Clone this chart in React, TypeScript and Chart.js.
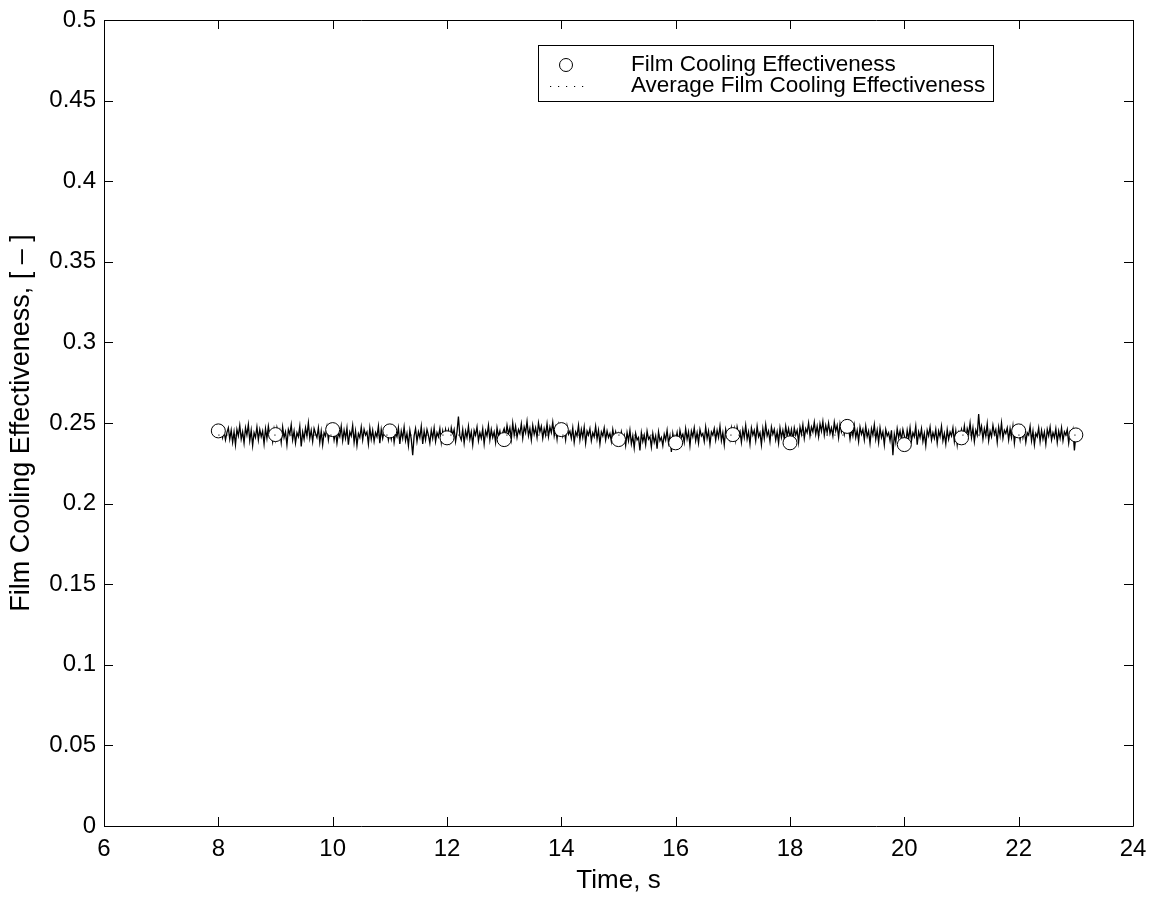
import React, { useEffect, useRef } from "react";
import { Chart, registerables } from "chart.js";

Chart.register(...registerables);

const FONT = "'Liberation Sans', Arial, Helvetica, sans-serif";

const X_MIN = 6;
const X_MAX = 24;
const Y_MIN = 0;
const Y_MAX = 0.5;

const X_TICKS = [6, 8, 10, 12, 14, 16, 18, 20, 22, 24];
const X_TICK_LABELS = ["6", "8", "10", "12", "14", "16", "18", "20", "22", "24"];
const Y_TICKS = [0, 0.05, 0.1, 0.15, 0.2, 0.25, 0.3, 0.35, 0.4, 0.45, 0.5];
const Y_TICK_LABELS = ["0", "0.05", "0.1", "0.15", "0.2", "0.25", "0.3", "0.35", "0.4", "0.45", "0.5"];

const X_TITLE = "Time, s";
const Y_TITLE = "Film Cooling Effectiveness, [ \u2013 ]";

const MARKER_LABEL = "Film Cooling Effectiveness";
const AVERAGE_LABEL = "Average Film Cooling Effectiveness";

// sampled effectiveness at whole seconds (circles)
const MARKER_TIMES = [8, 9, 10, 11, 12, 13, 14, 15, 16, 17, 18, 19, 20, 21, 22, 23];
const MARKER_VALUES = [
  0.2451, 0.2428, 0.2459, 0.2451, 0.2408, 0.2397, 0.2459, 0.2397,
  0.2377, 0.2428, 0.2377, 0.2479, 0.2366, 0.2408, 0.2451, 0.2426,
];

// average effectiveness (dotted)
const AVERAGE_TIMES = [8, 23];
const AVERAGE_VALUES = [0.2425, 0.2425];

// raw signal, sampled every RAW_STEP seconds from RAW_START
const RAW_START = 8;
const RAW_STEP = 0.025;
const RAW_VALUES = [
  // 8
  0.2455, 0.2430, 0.2465, 0.2410, 0.2450, 0.2395, 0.2440, 0.2470, 0.2400, 0.2455,
  0.2380, 0.2445, 0.2365, 0.2460, 0.2420, 0.2485, 0.2400, 0.2445, 0.2375, 0.2470,
  0.2425, 0.2490, 0.2390, 0.2455, 0.2360, 0.2440, 0.2410, 0.2475, 0.2395, 0.2460,
  0.2415, 0.2450, 0.2370, 0.2465, 0.2405, 0.2480, 0.2420, 0.2445, 0.2385, 0.2460,
  // 9
  0.2400, 0.2470, 0.2425, 0.2455, 0.2380, 0.2475, 0.2410, 0.2445, 0.2365, 0.2460,
  0.2430, 0.2490, 0.2395, 0.2450, 0.2375, 0.2440, 0.2415, 0.2480, 0.2355, 0.2445,
  0.2400, 0.2470, 0.2420, 0.2500, 0.2405, 0.2455, 0.2385, 0.2465, 0.2435, 0.2410,
  0.2470, 0.2380, 0.2450, 0.2365, 0.2440, 0.2420, 0.2475, 0.2395, 0.2455, 0.2430,
  // 10
  0.2465, 0.2395, 0.2450, 0.2375, 0.2440, 0.2415, 0.2480, 0.2390, 0.2455, 0.2405,
  0.2470, 0.2365, 0.2445, 0.2420, 0.2485, 0.2380, 0.2450, 0.2360, 0.2435, 0.2410,
  0.2475, 0.2395, 0.2460, 0.2425, 0.2445, 0.2370, 0.2470, 0.2400, 0.2455, 0.2385,
  0.2440, 0.2415, 0.2480, 0.2375, 0.2460, 0.2405, 0.2450, 0.2430, 0.2465, 0.2395,
  // 11
  0.2445, 0.2400, 0.2465, 0.2380, 0.2440, 0.2415, 0.2470, 0.2370, 0.2450, 0.2405,
  0.2475, 0.2390, 0.2435, 0.2360, 0.2455, 0.2400, 0.2300, 0.2420, 0.2465, 0.2385,
  0.2445, 0.2410, 0.2480, 0.2370, 0.2450, 0.2395, 0.2460, 0.2425, 0.2375, 0.2455,
  0.2405, 0.2470, 0.2385, 0.2440, 0.2415, 0.2465, 0.2380, 0.2450, 0.2400, 0.2460,
  // 12
  0.2410, 0.2455, 0.2390, 0.2470, 0.2425, 0.2460, 0.2385, 0.2445, 0.2540, 0.2420,
  0.2395, 0.2460, 0.2375, 0.2450, 0.2410, 0.2480, 0.2400, 0.2445, 0.2365, 0.2455,
  0.2425, 0.2475, 0.2390, 0.2440, 0.2405, 0.2465, 0.2370, 0.2450, 0.2420, 0.2485,
  0.2395, 0.2460, 0.2410, 0.2445, 0.2380, 0.2470, 0.2415, 0.2450, 0.2395, 0.2440,
  // 13
  0.2465, 0.2415, 0.2485, 0.2430, 0.2470, 0.2400, 0.2500, 0.2425, 0.2480, 0.2410,
  0.2460, 0.2435, 0.2495, 0.2405, 0.2475, 0.2440, 0.2510, 0.2420, 0.2465, 0.2395,
  0.2485, 0.2430, 0.2470, 0.2410, 0.2500, 0.2445, 0.2480, 0.2405, 0.2465, 0.2425,
  0.2495, 0.2415, 0.2475, 0.2440, 0.2505, 0.2420, 0.2470, 0.2400, 0.2485, 0.2435,
  // 14
  0.2475, 0.2420, 0.2460, 0.2395, 0.2480, 0.2430, 0.2450, 0.2405, 0.2470, 0.2380,
  0.2445, 0.2420, 0.2485, 0.2395, 0.2460, 0.2410, 0.2475, 0.2375, 0.2450, 0.2425,
  0.2465, 0.2390, 0.2440, 0.2415, 0.2480, 0.2400, 0.2455, 0.2370, 0.2445, 0.2420,
  0.2470, 0.2395, 0.2450, 0.2410, 0.2435, 0.2385, 0.2460, 0.2405, 0.2445, 0.2390,
  // 15
  0.2430, 0.2380, 0.2445, 0.2400, 0.2425, 0.2360, 0.2440, 0.2390, 0.2455, 0.2370,
  0.2420, 0.2345, 0.2435, 0.2395, 0.2410, 0.2330, 0.2440, 0.2385, 0.2425, 0.2365,
  0.2450, 0.2400, 0.2415, 0.2350, 0.2435, 0.2380, 0.2420, 0.2340, 0.2445, 0.2390,
  0.2410, 0.2360, 0.2430, 0.2395, 0.2455, 0.2375, 0.2420, 0.2320, 0.2435, 0.2385,
  // 16
  0.2395, 0.2440, 0.2370, 0.2455, 0.2410, 0.2430, 0.2380, 0.2465, 0.2400, 0.2445,
  0.2360, 0.2450, 0.2415, 0.2470, 0.2390, 0.2440, 0.2375, 0.2460, 0.2420, 0.2435,
  0.2385, 0.2475, 0.2405, 0.2450, 0.2370, 0.2445, 0.2425, 0.2465, 0.2395, 0.2455,
  0.2410, 0.2480, 0.2390, 0.2440, 0.2365, 0.2460, 0.2415, 0.2450, 0.2400, 0.2470,
  // 17
  0.2420, 0.2465, 0.2395, 0.2475, 0.2430, 0.2450, 0.2380, 0.2460, 0.2410, 0.2485,
  0.2400, 0.2445, 0.2370, 0.2470, 0.2425, 0.2455, 0.2390, 0.2480, 0.2415, 0.2440,
  0.2365, 0.2465, 0.2405, 0.2490, 0.2420, 0.2450, 0.2385, 0.2475, 0.2430, 0.2460,
  0.2395, 0.2445, 0.2375, 0.2470, 0.2410, 0.2455, 0.2400, 0.2480, 0.2420, 0.2465,
  // 18
  0.2410, 0.2460, 0.2395, 0.2470, 0.2425, 0.2455, 0.2380, 0.2475, 0.2430, 0.2490,
  0.2405, 0.2465, 0.2440, 0.2500, 0.2420, 0.2475, 0.2445, 0.2505, 0.2430, 0.2480,
  0.2415, 0.2495, 0.2450, 0.2510, 0.2425, 0.2485, 0.2440, 0.2500, 0.2435, 0.2470,
  0.2420, 0.2505, 0.2450, 0.2485, 0.2410, 0.2495, 0.2445, 0.2475, 0.2430, 0.2500,
  // 19
  0.2445, 0.2470, 0.2400, 0.2465, 0.2420, 0.2485, 0.2410, 0.2455, 0.2385, 0.2475,
  0.2430, 0.2460, 0.2395, 0.2480, 0.2415, 0.2450, 0.2375, 0.2465, 0.2425, 0.2490,
  0.2400, 0.2455, 0.2380, 0.2470, 0.2410, 0.2445, 0.2365, 0.2460, 0.2420, 0.2440,
  0.2390, 0.2455, 0.2300, 0.2430, 0.2380, 0.2465, 0.2410, 0.2450, 0.2395, 0.2460,
  // 20
  0.2420, 0.2375, 0.2455, 0.2400, 0.2470, 0.2390, 0.2440, 0.2415, 0.2480, 0.2365,
  0.2445, 0.2410, 0.2465, 0.2385, 0.2435, 0.2360, 0.2455, 0.2420, 0.2475, 0.2395,
  0.2440, 0.2405, 0.2460, 0.2375, 0.2450, 0.2415, 0.2480, 0.2390, 0.2435, 0.2370,
  0.2460, 0.2400, 0.2445, 0.2420, 0.2470, 0.2385, 0.2450, 0.2365, 0.2440, 0.2410,
  // 21
  0.2460, 0.2415, 0.2480, 0.2395, 0.2465, 0.2430, 0.2500, 0.2410, 0.2470, 0.2385,
  0.2455, 0.2425, 0.2555, 0.2440, 0.2480, 0.2400, 0.2465, 0.2420, 0.2495, 0.2390,
  0.2450, 0.2415, 0.2485, 0.2430, 0.2460, 0.2380, 0.2475, 0.2420, 0.2500, 0.2405,
  0.2455, 0.2435, 0.2470, 0.2395, 0.2465, 0.2410, 0.2480, 0.2375, 0.2450, 0.2420,
  // 22
  0.2445, 0.2395, 0.2470, 0.2410, 0.2455, 0.2380, 0.2440, 0.2425, 0.2480, 0.2390,
  0.2450, 0.2365, 0.2435, 0.2415, 0.2470, 0.2385, 0.2455, 0.2400, 0.2445, 0.2370,
  0.2460, 0.2420, 0.2475, 0.2395, 0.2440, 0.2410, 0.2465, 0.2380, 0.2450, 0.2405,
  0.2470, 0.2390, 0.2445, 0.2425, 0.2460, 0.2375, 0.2440, 0.2410, 0.2455, 0.2330,
  // 23
  0.2425,
];

const framePlugin = {
  id: "matlabFrame",
  afterDraw(chart: any) {
    const { ctx, chartArea } = chart;
    const { left, right, top, bottom } = chartArea;
    const xs = chart.scales.x;
    const ys = chart.scales.y;
    const TL = 9;
    ctx.save();
    ctx.strokeStyle = "#000";
    ctx.lineWidth = 1;
    ctx.beginPath();
    ctx.rect(Math.round(left) + 0.5, Math.round(top) + 0.5, Math.round(right - left), Math.round(bottom - top));
    ctx.stroke();
    ctx.beginPath();
    X_TICKS.forEach((v) => {
      const px = Math.round(xs.getPixelForValue(v)) + 0.5;
      ctx.moveTo(px, bottom);
      ctx.lineTo(px, bottom - TL);
      ctx.moveTo(px, top);
      ctx.lineTo(px, top + TL);
    });
    Y_TICKS.forEach((v) => {
      const py = Math.round(ys.getPixelForValue(v)) + 0.5;
      ctx.moveTo(left, py);
      ctx.lineTo(left + TL, py);
      ctx.moveTo(right, py);
      ctx.lineTo(right - TL, py);
    });
    ctx.stroke();
    ctx.restore();
  },
};

const legendPlugin = {
  id: "matlabLegend",
  afterDraw(chart: any) {
    const { ctx } = chart;
    const bx = 538, by = 45, bw = 455, bh = 56;
    ctx.save();
    ctx.fillStyle = "#fff";
    ctx.fillRect(bx, by, bw, bh);
    ctx.strokeStyle = "#000";
    ctx.lineWidth = 1;
    ctx.strokeRect(bx + 0.5, by + 0.5, bw, bh);
    const r1 = 65, r2 = 86;
    ctx.beginPath();
    ctx.arc(566, r1, 6.5, 0, Math.PI * 2);
    ctx.fillStyle = "#fff";
    ctx.fill();
    ctx.stroke();
    ctx.beginPath();
    ctx.setLineDash([1.2, 6.8]);
    ctx.moveTo(550, r2 + 0.5);
    ctx.lineTo(585, r2 + 0.5);
    ctx.stroke();
    ctx.setLineDash([]);
    ctx.fillStyle = "#000";
    ctx.font = `22.5px ${FONT}`;
    ctx.textBaseline = "middle";
    ctx.textAlign = "left";
    const ds = chart.data.datasets;
    ctx.fillText(ds[0].label, 631, r1);
    ctx.fillText(ds[1].label, 631, r2);
    ctx.restore();
  },
};

export default function App() {
  const canvasRef = useRef<HTMLCanvasElement | null>(null);

  useEffect(() => {
    const canvas = canvasRef.current;
    if (!canvas) return;
    const rawPoints = RAW_VALUES.map((v, i) => ({ x: RAW_START + i * RAW_STEP, y: v }));
    const markerPoints = MARKER_TIMES.map((t, i) => ({ x: t, y: MARKER_VALUES[i] }));
    const avgPoints = AVERAGE_TIMES.map((t, i) => ({ x: t, y: AVERAGE_VALUES[i] }));

    const chart = new Chart(canvas, {
      type: "scatter",
      data: {
        datasets: [
          {
            label: MARKER_LABEL,
            data: markerPoints,
            showLine: false,
            pointRadius: 7,
            pointHoverRadius: 7,
            pointBorderWidth: 1,
            pointBorderColor: "#000",
            pointBackgroundColor: "#fff",
            order: 2,
          },
          {
            label: AVERAGE_LABEL,
            data: avgPoints,
            showLine: true,
            borderColor: "#000",
            borderWidth: 1,
            borderDash: [1.2, 6.8],
            pointRadius: 0,
            order: 1,
          },
          {
            label: "raw",
            data: rawPoints,
            showLine: true,
            borderColor: "#000",
            borderWidth: 1.3,
            pointRadius: 0,
            tension: 0,
            order: 3,
          },
        ],
      },
      options: {
        responsive: false,
        animation: false,
        events: [],
        layout: { padding: { top: 14, right: 27, left: 0, bottom: 0 } },
        plugins: {
          legend: { display: false },
          tooltip: { enabled: false },
        },
        scales: {
          x: {
            type: "linear",
            min: X_MIN,
            max: X_MAX,
            afterBuildTicks: (s: any) => {
              s.ticks = X_TICKS.map((v) => ({ value: v }));
            },
            afterFit: (s: any) => {
              s.height = 75;
            },
            grid: { display: false, drawTicks: false },
            border: { display: false },
            ticks: {
              color: "#000",
              padding: 11,
              maxRotation: 0,
              autoSkip: false,
              font: { family: FONT, size: 24, lineHeight: 1 },
              callback: (v: any) => X_TICK_LABELS[X_TICKS.indexOf(Number(v))],
            },
            title: {
              display: true,
              text: X_TITLE,
              color: "#000",
              font: { family: FONT, size: 26, lineHeight: 1.2 },
              padding: { top: 0, bottom: 5 },
            },
          },
          y: {
            type: "linear",
            min: Y_MIN,
            max: Y_MAX,
            afterBuildTicks: (s: any) => {
              s.ticks = Y_TICKS.map((v) => ({ value: v }));
            },
            afterFit: (s: any) => {
              s.width = 104;
            },
            grid: { display: false, drawTicks: false },
            border: { display: false },
            ticks: {
              color: "#000",
              padding: 8,
              autoSkip: false,
              font: { family: FONT, size: 24, lineHeight: 1 },
              callback: (v: any) => {
                const i = Y_TICKS.findIndex((t) => Math.abs(t - Number(v)) < 1e-9);
                return i >= 0 ? Y_TICK_LABELS[i] : "";
              },
            },
            title: {
              display: true,
              text: Y_TITLE,
              color: "#000",
              font: { family: FONT, size: 27, lineHeight: 1.2 },
              padding: { top: 5, bottom: 0 },
            },
          },
        },
      },
      plugins: [framePlugin, legendPlugin],
    });
    return () => chart.destroy();
  }, []);

  return (
    <div style={{ position: "absolute", left: 0, top: 0, width: 1160, height: 901, background: "#fff" }}>
      <canvas ref={canvasRef} width={1160} height={901} style={{ width: 1160, height: 901, display: "block" }} />
    </div>
  );
}
